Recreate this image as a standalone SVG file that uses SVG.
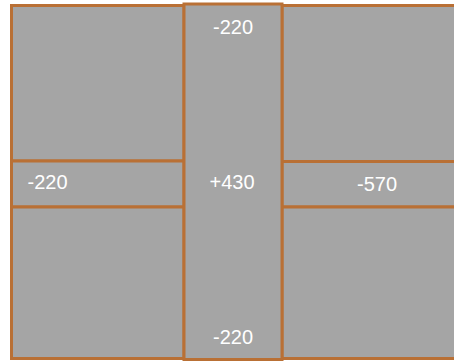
<svg xmlns="http://www.w3.org/2000/svg" width="454" height="362" viewBox="0 0 454 362">
<style>
.cell{fill:#A5A5A5;stroke:#B97035;stroke-width:3}
.lbl{fill:#FFFFFF;font-family:"Liberation Sans","Open Sans",sans-serif;font-size:20px}
.c{text-anchor:middle}
</style>
<rect width="454" height="362" fill="#FFFFFF"/>
<g id="left-top"><rect class="cell" x="11.5" y="5.5" width="172.5" height="155.5"/></g>
<g id="left-mid"><rect class="cell" x="11.5" y="161" width="172.5" height="46"/><text class="lbl" x="27.5" y="188.5">-220</text></g>
<g id="left-bottom"><rect class="cell" x="11.5" y="207" width="172.5" height="151.5"/></g>
<g id="right-top"><rect class="cell" x="282" y="5.5" width="180" height="156"/></g>
<g id="right-mid"><rect class="cell" x="282" y="161.5" width="180" height="45.5"/><text class="lbl c" x="377" y="191">-570</text></g>
<g id="right-bottom"><rect class="cell" x="282" y="207" width="180" height="151.5"/></g>
<g id="center"><rect class="cell" x="184" y="4" width="98" height="355.5"/>
<text class="lbl c" x="233" y="33.5">-220</text>
<text class="lbl c" x="232" y="188.5">+430</text>
<text class="lbl c" x="233" y="343.5">-220</text></g>
<g id="connectors"/>
</svg>
